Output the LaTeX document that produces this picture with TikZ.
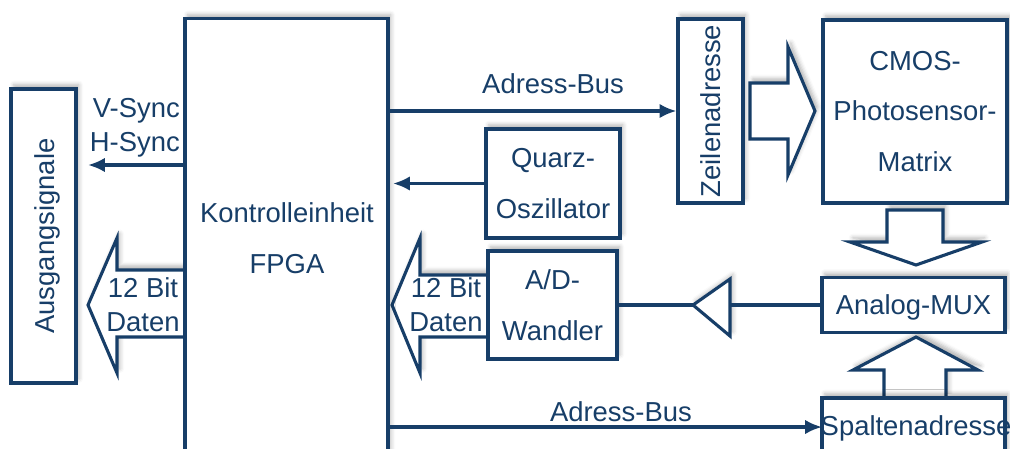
\documentclass[tikz,border=0pt]{standalone}
\usepackage{fontspec}
\setmainfont{Liberation Sans}
\usetikzlibrary{arrows.meta,shadows.blur}
\definecolor{navy}{RGB}{23,62,104}

\begin{document}
\begin{tikzpicture}[x=0.025cm,y=-0.025cm,inner sep=0pt,
    font=\fontsize{19.5}{36}\selectfont,text=navy,
    shade/.style={blur shadow={shadow xshift=2pt,shadow yshift=3pt,shadow blur radius=3pt,shadow opacity=30}},
    box/.style={draw=navy,line width=2.2pt,fill=white,align=center,shade},
    fat/.style={draw=navy,line width=2.2pt,fill=white,line join=miter,shade},
    bus/.style={draw=navy,line width=2.2pt,-{Latex[length=0.42cm,width=0.36cm]}},
    wire/.style={draw=navy,line width=2.2pt},
    small/.style={font=\fontsize{19.5}{24}\selectfont,align=center}]
    \useasboundingbox (0,0) rectangle (1010,448);
    \clip (0,0) rectangle (1010,448);
    % block arrows
    \draw[fat] (185,270)--(117,270)--(117,238)--(88,305)--(117,373)--(117,337)--(185,337);
    \draw[fat] (488,275)--(420,275)--(420,238)--(392,305)--(420,373)--(420,337)--(488,337);
    \draw[fat] (750,83)--(788,83)--(788,47)--(815,111)--(788,175)--(788,139)--(750,139)--cycle;
    \draw[fat] (887,210)--(943,210)--(943,242)--(982,242)--(916,265)--(850,242)--(887,242)--cycle;
    \draw[fat] (884,398)--(884,370)--(853,370)--(916,337)--(978,370)--(946,370)--(946,398);
    % blocks
    \node[box,minimum width=1.625cm,minimum height=7.35cm] (aus) at (43.5,236) {\hspace*{0.2cm}\rotatebox{90}{Ausgangsignale}};
    \node[box,minimum width=5.075cm,minimum height=11.55cm] (fpga) at (286.5,250) {};
    \node[align=center] (fpgatxt) at (287,238.5) {Kontrolleinheit\\FPGA};
    \node[box,minimum width=3.35cm,minimum height=2.725cm] (quarz) at (553,183.5) {Quarz-\\Oszillator};
    \node[box,minimum width=3.225cm,minimum height=2.7cm] (ad) at (552.5,305) {A/D-\\Wandler};
    \node[box,minimum width=1.625cm,minimum height=4.6cm] (zeile) at (710.5,111) {\rotatebox{90}{Zeilenadresse}};
    \node[box,minimum width=4.6cm,minimum height=4.575cm] (cmos) at (915,111.5) {CMOS-\\Photosensor-\\Matrix};
    \node[box,minimum width=4.575cm,minimum height=1.375cm,text depth=0pt] (mux) at (913.5,305) {Analog-MUX};
    \node[box,minimum width=4.575cm,minimum height=2.1cm] (spalte) at (913.5,440) {};
    \node[anchor=base] (spaltetxt) at (916,435) {Spaltenadresse};
    % texts on the block arrows
    \node[small] (daten1) at (143,305) {12 Bit\\Daten};
    \node[small] (daten2) at (446,305) {12 Bit\\Daten};
    \node[small,align=right,anchor=east] (sync) at (180,128) {V-Sync\\H-Sync};
    % amplifier
    \coordinate (amptip) at (693,305);
    \coordinate (ampback) at (730,305);
    \draw[fat] (730,279)--(730,336)--(amptip)--cycle;
    \draw[wire] (ad.east)--(amptip);
    \draw[wire] (mux.west)--(ampback);
    % signal lines
    \coordinate (syncend) at (88,165);
    \coordinate (clkend) at (393,183.5);
    \coordinate (busend) at (822,427);
    \draw[bus] (fpga.west |- syncend)--(syncend);
    \draw[bus] (quarz.west)--(clkend);
    \draw[bus] (fpga.east |- zeile.west)--node[pos=0.57,anchor=base,yshift=0.425cm]{Adress-Bus}(zeile.west);
    \draw[bus] (fpga.east |- busend)--node[pos=0.535,anchor=base,yshift=0.15cm]{Adress-Bus}(busend);
\end{tikzpicture}
\end{document}
